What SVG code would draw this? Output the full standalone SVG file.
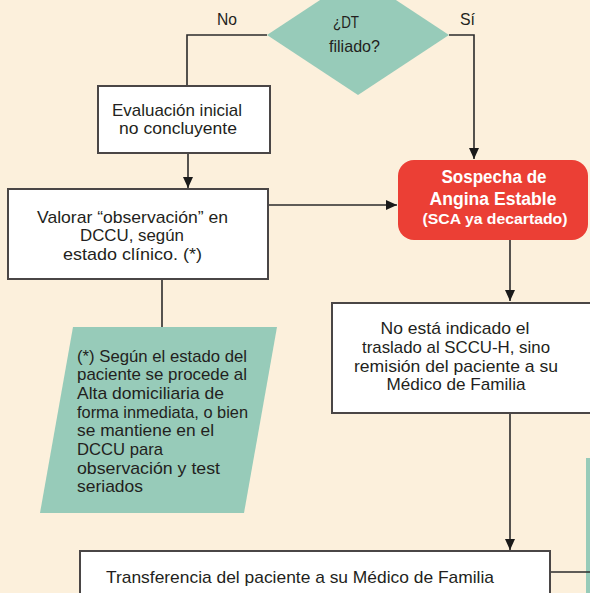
<svg xmlns="http://www.w3.org/2000/svg" width="590" height="593" viewBox="0 0 590 593">
<defs>
<style>
.t{font-family:"Liberation Sans",Arial,sans-serif;font-size:17px;fill:#231f20}
.c{text-anchor:middle}
.w{font-family:"Liberation Sans",Arial,sans-serif;font-weight:bold;fill:#ffffff;text-anchor:middle}
.box{fill:#ffffff;stroke:#4a4646;stroke-width:2}
.ln{fill:none;stroke:#2b2b2b;stroke-width:1.6}
</style>
<marker id="ah" markerUnits="userSpaceOnUse" markerWidth="12" markerHeight="12" refX="11" refY="5" orient="auto">
<path d="M0,0 L11,5 L0,10 z" fill="#1a1a1a"/>
</marker>
</defs>
<rect x="0" y="0" width="590" height="593" fill="#fcf0dc"/>
<rect x="586" y="458" width="4" height="135" fill="#97cbb9"/>
<g id="connectors">
<polyline class="ln" points="267,35 187,35 187,86"/>
<polyline class="ln" points="449,35 474,35 474,159" marker-end="url(#ah)"/>
<line class="ln" x1="188" y1="153" x2="188" y2="188" marker-end="url(#ah)"/>
<line class="ln" x1="268" y1="205" x2="397" y2="205" marker-end="url(#ah)"/>
<line class="ln" x1="162" y1="279" x2="162" y2="327"/>
<line class="ln" x1="510" y1="240" x2="510" y2="301" marker-end="url(#ah)"/>
<line class="ln" x1="510" y1="413" x2="510" y2="550" marker-end="url(#ah)"/>
<line class="ln" x1="550" y1="572" x2="590" y2="572"/>
</g>
<g id="decision">
<polygon points="358,-25 449,35 358,95 267,35" fill="#97cbb9"/>
<text class="t" x="333" y="28" textLength="26" lengthAdjust="spacingAndGlyphs">¿DT</text>
<text class="t" x="329" y="52" textLength="51" lengthAdjust="spacingAndGlyphs">filiado?</text>
</g>
<g id="label-no"><text class="t" x="217" y="25" textLength="20" lengthAdjust="spacingAndGlyphs">No</text></g>
<g id="label-si"><text class="t" x="460" y="25" textLength="15" lengthAdjust="spacingAndGlyphs">Sí</text></g>
<g id="evaluacion">
<rect class="box" x="98" y="86" width="172" height="67"/>
<text class="t" x="112" y="116" textLength="130" lengthAdjust="spacingAndGlyphs">Evaluación inicial</text>
<text class="t" x="119" y="134" textLength="118" lengthAdjust="spacingAndGlyphs">no concluyente</text>
</g>
<g id="valorar">
<rect class="box" x="8" y="189" width="260" height="90"/>
<text class="t" x="37" y="223" textLength="191" lengthAdjust="spacingAndGlyphs">Valorar “observación” en</text>
<text class="t" x="80" y="241" textLength="104" lengthAdjust="spacingAndGlyphs">DCCU, según</text>
<text class="t" x="63" y="260" textLength="139" lengthAdjust="spacingAndGlyphs">estado clínico. (*)</text>
</g>
<g id="nota">
<polygon points="73,327 277,327 244,513 40,513" fill="#97cbb9"/>
<text class="t" x="77" y="362" textLength="170" lengthAdjust="spacingAndGlyphs">(*) Según el estado del</text>
<text class="t" x="77" y="380" textLength="170" lengthAdjust="spacingAndGlyphs">paciente se procede al</text>
<text class="t" x="77" y="399" textLength="147" lengthAdjust="spacingAndGlyphs">Alta domiciliaria de</text>
<text class="t" x="77" y="418" textLength="171" lengthAdjust="spacingAndGlyphs">forma inmediata, o bien</text>
<text class="t" x="77" y="436" textLength="137" lengthAdjust="spacingAndGlyphs">se mantiene en el</text>
<text class="t" x="77" y="455" textLength="86" lengthAdjust="spacingAndGlyphs">DCCU para</text>
<text class="t" x="77" y="474" textLength="143" lengthAdjust="spacingAndGlyphs">observación y test</text>
<text class="t" x="77" y="492" textLength="66" lengthAdjust="spacingAndGlyphs">seriados</text>
</g>
<g id="sospecha">
<rect x="398" y="160" width="190" height="80" rx="16" fill="#eb3f35"/>
<text class="w" x="494" y="183" font-size="18" textLength="105" lengthAdjust="spacingAndGlyphs">Sospecha de</text>
<text class="w" x="493" y="205" font-size="18" textLength="127" lengthAdjust="spacingAndGlyphs">Angina Estable</text>
<text class="w" x="495" y="224" font-size="15" textLength="145" lengthAdjust="spacingAndGlyphs">(SCA ya decartado)</text>
</g>
<g id="no-indicado">
<rect class="box" x="332" y="303" width="270" height="110"/>
<text class="t c" x="455" y="334" textLength="149" lengthAdjust="spacingAndGlyphs">No está indicado el</text>
<text class="t c" x="456" y="353" textLength="188" lengthAdjust="spacingAndGlyphs">traslado al SCCU-H, sino</text>
<text class="t c" x="456" y="372" textLength="204" lengthAdjust="spacingAndGlyphs">remisión del paciente a su</text>
<text class="t c" x="456" y="390" textLength="139" lengthAdjust="spacingAndGlyphs">Médico de Familia</text>
</g>
<g id="transferencia">
<rect class="box" x="80" y="551" width="470" height="60"/>
<text class="t" x="106" y="583" textLength="388" lengthAdjust="spacingAndGlyphs">Transferencia del paciente a su Médico de Familia</text>
</g>
</svg>
